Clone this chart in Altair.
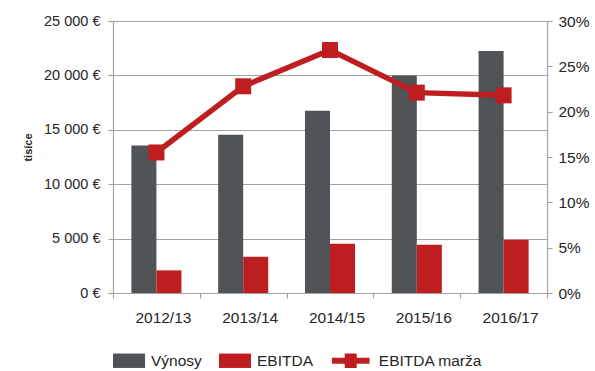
import altair as alt
import pandas as pd

# Financial years and their figures (thousand €, margin as a fraction)
years = ["2012/13", "2013/14", "2014/15", "2015/16", "2016/17"]
revenue = [13550, 14550, 16750, 20000, 22250]
ebitda = [2080, 3340, 4530, 4440, 4900]
margin = [0.155, 0.228, 0.268, 0.221, 0.218]

series_names = ["Výnosy", "EBITDA", "EBITDA marža"]
series_colors = ["#505457", "#BE1E20", "#BE1E20"]
# Legend glyphs: two filled boxes and a thick line with a square marker
series_shapes = [
    "M-1,-0.45H1V0.45H-1Z",
    "M-1,-0.45H1V0.45H-1Z",
    "M-0.88,-0.19H-0.08V-0.46H0.67V-0.19H1.47V0.19H0.67V0.46H-0.08V0.19H-0.88Z",
]

left_ticks = [0, 5000, 10000, 15000, 20000, 25000]
right_ticks = [0, 0.05, 0.10, 0.15, 0.20, 0.25, 0.30]

RED = "#BE1E20"
AXIS_GREY = "#A3A3A3"
TEXT = "#262626"
FONT = "Liberation Sans"

bars_df = pd.DataFrame({
    "year": years * 2,
    "series": ["Výnosy"] * len(years) + ["EBITDA"] * len(years),
    "value": revenue + ebitda,
})
margin_df = pd.DataFrame({
    "year": years,
    "series": ["EBITDA marža"] * len(years),
    "margin": margin,
})

x_enc = alt.X(
    "year:N",
    sort=years,
    scale=alt.Scale(paddingInner=0, paddingOuter=0),
    axis=alt.Axis(
        title=None, labelAngle=0, tickBand="extent", tickSize=5,
        labelPadding=12, labelOffset=6.5, labelFontSize=15.5, labelColor=TEXT,
        labelFont=FONT, domainColor=AXIS_GREY, tickColor=AXIS_GREY,
        domainWidth=1.2, tickWidth=1.2,
    ),
)

color_scale = alt.Scale(domain=series_names, range=series_colors)
# The line entry gets a little extra room before its label; a zero-width
# space in front keeps the en/thin spaces from being trimmed.
legend_spec = alt.Legend(
    title=None, orient="none", direction="horizontal", legendX=0, legendY=323.5,
    symbolSize=1024, symbolStrokeWidth=0, symbolOpacity=1,
    labelFontSize=15.5, labelColor=TEXT, labelFont=FONT, labelOffset=6,
    columnPadding=17, padding=0,
    labelExpr="indexof(datum.label, 'mar') >= 0 ? '\u200b\u2002\u2009' + datum.label : datum.label",
)

bars = alt.Chart(bars_df).mark_bar().encode(
    x=x_enc,
    xOffset=alt.XOffset(
        "series:N", sort=["Výnosy", "EBITDA"],
        scale=alt.Scale(paddingInner=0, paddingOuter=0.734),
    ),
    y=alt.Y(
        "value:Q",
        scale=alt.Scale(domain=[0, 25000], nice=False),
        axis=alt.Axis(
            values=left_ticks, title="tisíce", titleFontWeight="bold",
            titleFontSize=11, titleFont=FONT, titleColor=TEXT,
            titleX=-80, titleY=126,
            labelExpr="replace(format(datum.value, ','), ',', ' ') + ' €'",
            labelFontSize=14.5, labelColor=TEXT, labelFont=FONT, labelPadding=8,
            tickSize=5, tickColor=AXIS_GREY, tickWidth=1.2,
            domainColor=AXIS_GREY, domainWidth=1.2,
            grid=True, gridColor=AXIS_GREY, gridWidth=1.2,
        ),
    ),
    color=alt.Color("series:N", scale=color_scale, legend=legend_spec),
)

right_axis = alt.Axis(
    orient="right", values=right_ticks, format=".0%", title=None, grid=False,
    labelFontSize=15.5, labelColor=TEXT, labelFont=FONT, labelPadding=6,
    tickSize=5, tickColor=AXIS_GREY, tickWidth=1.2,
    domainColor=AXIS_GREY, domainWidth=1.2,
)
y_margin = alt.Y("margin:Q", scale=alt.Scale(domain=[0, 0.30], nice=False), axis=right_axis)

margin_line = alt.Chart(margin_df).mark_line(color=RED, strokeWidth=5.5).encode(
    x=x_enc, y=y_margin,
)
margin_points = alt.Chart(margin_df).mark_point(
    shape="square", filled=True, size=256, color=RED, opacity=1,
).encode(x=x_enc, y=y_margin)

# Invisible layer that carries the shape half of the combined legend
legend_layer = alt.Chart(margin_df).mark_point(filled=True, opacity=0).encode(
    x=x_enc,
    y=y_margin,
    color=alt.Color("series:N", scale=color_scale, legend=legend_spec),
    shape=alt.Shape(
        "series:N", scale=alt.Scale(domain=series_names, range=series_shapes),
        legend=legend_spec,
    ),
)

chart = alt.layer(
    bars,
    alt.layer(margin_line, margin_points, legend_layer),
).resolve_scale(y="independent").properties(
    width=434,
    height=272,
    padding={"left": 113, "top": 21, "right": 48, "bottom": 78},
    autosize=alt.AutoSizeParams(type="none"),
    background="white",
).configure_view(stroke=None)

chart.save("out.html", embed_options={"renderer": "svg", "actions": False})
